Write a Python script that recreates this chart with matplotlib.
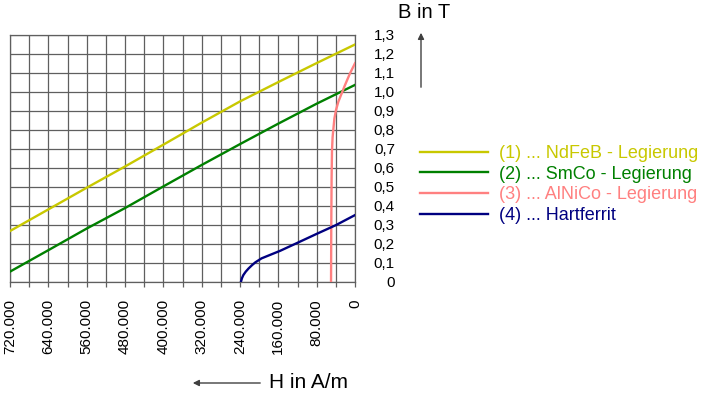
import numpy as np
import matplotlib
matplotlib.use("Agg")
import matplotlib.pyplot as plt

plt.rcParams['font.family'] = ['Liberation Sans', 'DejaVu Sans']

# Entmagnetisierungskennlinien (H in A/m, B in T)
H_ndfeb = [720000, 640000, 560000, 480000, 400000, 320000, 240000, 160000, 80000, 0]
B_ndfeb = [0.267, 0.381, 0.495, 0.607, 0.722, 0.838, 0.950, 1.052, 1.152, 1.250]

H_smco = [720000, 640000, 560000, 480000, 400000, 320000, 240000, 160000, 80000, 0]
B_smco = [0.053, 0.166, 0.280, 0.388, 0.502, 0.615, 0.725, 0.833, 0.938, 1.037]

H_alnico = [50000, 49500, 48800, 48000, 46800, 45300, 43000, 39600, 34800, 27700, 20900, 10400, 0]
B_alnico = [0.0, 0.30, 0.55, 0.69, 0.76, 0.80, 0.86, 0.905, 0.948, 0.993, 1.036, 1.098, 1.151]

H_ferrit = [238000, 236000, 233000, 228000, 222000, 215000, 208000, 195000, 156000, 120000, 80000, 40000, 0]
B_ferrit = [0.0, 0.018, 0.035, 0.053, 0.070, 0.087, 0.102, 0.123, 0.163, 0.205, 0.252, 0.298, 0.351]

labels = ["(1) ... NdFeB - Legierung", "(2) ... SmCo - Legierung",
          "(3) ... AlNiCo - Legierung", "(4) ... Hartferrit"]
colors = ["#c8c800", "#008000", "#ff8080", "#000080"]

x_ticks = np.arange(0, 720001, 40000)
y_ticks = np.round(np.arange(0, 1.31, 0.1), 1)
grid_col = "#5f5f5f"

W, H = 709, 398
fig = plt.figure(figsize=(W / 100, H / 100), dpi=100)
ax = fig.add_axes([10 / W, 116.3 / H, 345 / W, 246.7 / H])

lines = []
for hx, by, c, lab in zip([H_ndfeb, H_smco, H_alnico, H_ferrit],
                          [B_ndfeb, B_smco, B_alnico, B_ferrit], colors, labels):
    ln, = ax.plot(hx, by, color=c, lw=1.7, label=lab, zorder=3)
    lines.append(ln)

ax.set_xlim(720000, 0)
ax.set_ylim(0, 1.3)
ax.set_xticks(x_ticks)
ax.set_xticklabels([f"{v:,}".replace(",", ".") if (720000 - v) % 80000 == 0 else ""
                    for v in x_ticks], rotation=90, fontsize=11)
ax.set_yticks(y_ticks)
ax.set_yticklabels([f"{v:.1f}".replace(".", ",") if v > 0 else "0" for v in y_ticks],
                   fontsize=11, ha="right")
ax.yaxis.tick_right()
ax.tick_params(axis="y", length=0, pad=28.8)
ax.tick_params(axis="x", length=3.6, width=0.9, color=grid_col, pad=9)
ax.grid(True, color=grid_col, lw=0.9)
for sp in ax.spines.values():
    sp.set_color(grid_col)
    sp.set_linewidth(0.9)

leg = fig.legend(handles=lines, loc="upper left", bbox_to_anchor=(420 / W, 1 - 145 / H),
                 frameon=False, fontsize=13, handlelength=3.75, handletextpad=0.62,
                 labelspacing=0.2, borderpad=0, borderaxespad=0, labelcolor="linecolor")

# Achsenbeschriftungen mit Pfeilen
fig.text(269 / W, 1 - 383 / H, "H in A/m", fontsize=15, va="center", ha="left")
ax.annotate("", xy=(190 / W, 1 - 383 / H), xytext=(263 / W, 1 - 383 / H),
            xycoords="figure fraction", textcoords="figure fraction",
            arrowprops=dict(arrowstyle="-|>", color="#404040", lw=1, mutation_scale=9))
fig.text(398 / W, 1 - 13 / H, "B in T", fontsize=14.5, va="center", ha="left")
ax.annotate("", xy=(421 / W, 1 - 30 / H), xytext=(421 / W, 1 - 90 / H),
            xycoords="figure fraction", textcoords="figure fraction",
            arrowprops=dict(arrowstyle="-|>", color="#404040", lw=1, mutation_scale=9))

fig.savefig("out.png", dpi=100)
